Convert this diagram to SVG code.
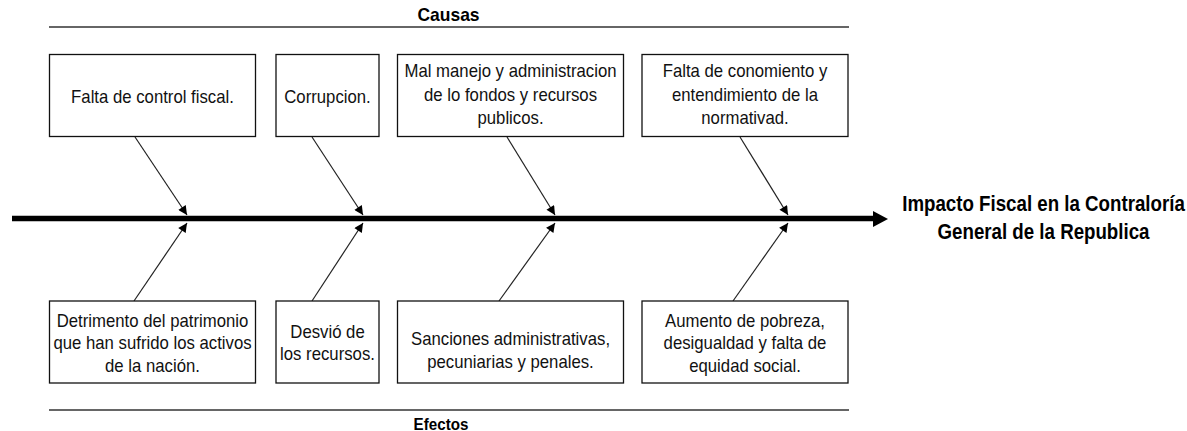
<svg xmlns="http://www.w3.org/2000/svg" width="1187" height="431" viewBox="0 0 1187 431">
<style>
.box{fill:#fff;stroke:#111;stroke-width:1.3}
.t{font-family:"Liberation Sans",Arial,sans-serif;font-size:18px;fill:#111;text-anchor:middle}
.h{font-family:"Liberation Sans",Arial,sans-serif;font-weight:bold;fill:#000;text-anchor:middle}
.br{stroke:#222;stroke-width:1.2;fill:none;marker-end:url(#ah)}
.rule{stroke:#333;stroke-width:1.4}
</style>
<defs>
<marker id="ah" viewBox="0 0 10 10" refX="10" refY="5" markerWidth="11" markerHeight="9" markerUnits="userSpaceOnUse" orient="auto">
<path d="M0,0 L10,5 L0,10 z" fill="#000"/>
</marker>
</defs>
<g id="rules">
<line class="rule" x1="49" y1="27" x2="849" y2="27"/>
<line class="rule" x1="49" y1="410" x2="849" y2="410"/>
<text class="h" font-size="18" transform="translate(448.5,21) scale(0.97,1)">Causas</text>
<text class="h" font-size="16" transform="translate(441,429.5) scale(0.95,1)">Efectos</text>
</g>
<g id="connectors">
<line x1="12" y1="218.5" x2="874" y2="218.5" stroke="#000" stroke-width="5.5"/>
<path d="M873,211 L888,219 L873,227 z" fill="#000"/>
<line class="br" x1="135" y1="137" x2="187" y2="215"/>
<line class="br" x1="312" y1="137" x2="363" y2="215"/>
<line class="br" x1="507" y1="137" x2="555" y2="215"/>
<line class="br" x1="740" y1="137" x2="788" y2="215"/>
<line class="br" x1="134" y1="301" x2="187" y2="223"/>
<line class="br" x1="312" y1="301" x2="363" y2="223"/>
<line class="br" x1="499" y1="301" x2="555" y2="223"/>
<line class="br" x1="733" y1="301" x2="788" y2="223"/>
</g>
<g id="n1"><rect class="box" x="49.5" y="54.5" width="206" height="82"/>
<text class="t" transform="translate(152.5,103) scale(0.93,1)">Falta de control fiscal.</text></g>
<g id="n2"><rect class="box" x="276" y="54.5" width="103" height="82"/>
<text class="t" transform="translate(327.5,103) scale(0.93,1)">Corrupcion.</text></g>
<g id="n3"><rect class="box" x="397.5" y="54.5" width="226" height="82"/>
<text class="t" transform="translate(510.5,77) scale(0.93,1)">Mal manejo y administracion</text>
<text class="t" transform="translate(510.5,100.5) scale(0.93,1)">de lo fondos y recursos</text>
<text class="t" transform="translate(510.5,124) scale(0.93,1)">publicos.</text></g>
<g id="n4"><rect class="box" x="642" y="54.5" width="206" height="82"/>
<text class="t" transform="translate(745,77) scale(0.93,1)">Falta de conomiento y</text>
<text class="t" transform="translate(745,100.5) scale(0.93,1)">entendimiento de la</text>
<text class="t" transform="translate(745,124) scale(0.93,1)">normativad.</text></g>
<g id="n5"><rect class="box" x="49.5" y="301" width="206" height="82"/>
<text class="t" transform="translate(152.5,326.5) scale(0.93,1)">Detrimento del patrimonio</text>
<text class="t" transform="translate(152.5,349) scale(0.93,1)">que han sufrido los activos</text>
<text class="t" transform="translate(152.5,371.5) scale(0.93,1)">de la nación.</text></g>
<g id="n6"><rect class="box" x="276" y="301" width="103" height="82"/>
<text class="t" transform="translate(327.5,338) scale(0.93,1)">Desvió de</text>
<text class="t" transform="translate(327.5,360) scale(0.93,1)">los recursos.</text></g>
<g id="n7"><rect class="box" x="397.5" y="301" width="226" height="82"/>
<text class="t" transform="translate(510.5,345) scale(0.93,1)">Sanciones administrativas,</text>
<text class="t" transform="translate(510.5,367.5) scale(0.93,1)">pecuniarias y penales.</text></g>
<g id="n8"><rect class="box" x="642" y="301" width="206" height="82"/>
<text class="t" transform="translate(745,326.5) scale(0.93,1)">Aumento de pobreza,</text>
<text class="t" transform="translate(745,349) scale(0.93,1)">desigualdad y falta de</text>
<text class="t" transform="translate(745,371.5) scale(0.93,1)">equidad social.</text></g>
<g id="effect">
<text class="h" font-size="21.5" transform="translate(1043.5,211) scale(0.87,1)">Impacto Fiscal en la Contraloría</text>
<text class="h" font-size="21.5" transform="translate(1043.5,239) scale(0.87,1)">General de la Republica</text>
</g>
</svg>
